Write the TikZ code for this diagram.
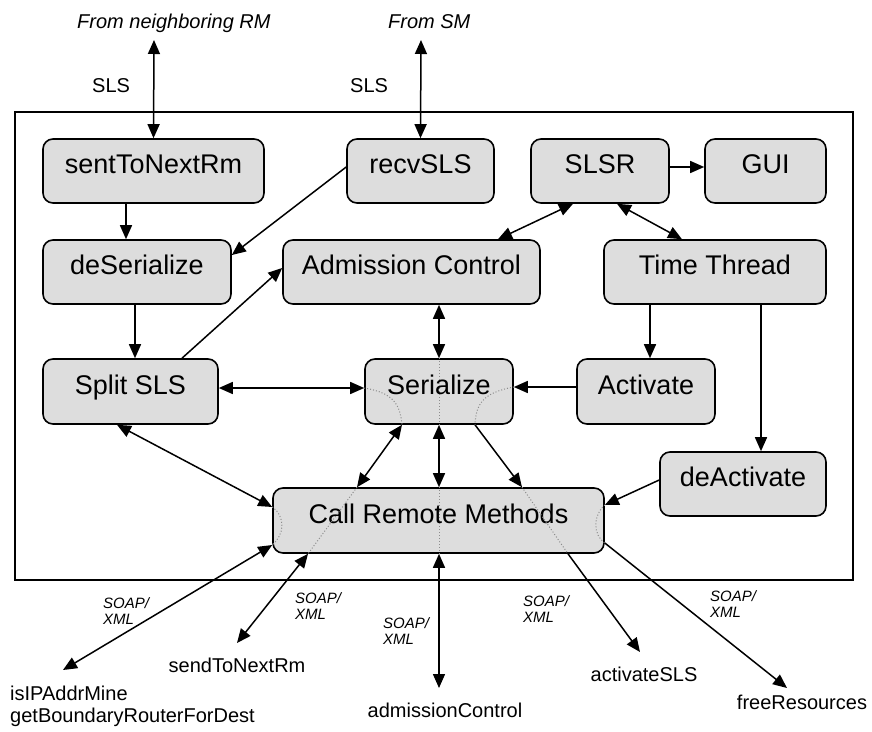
\documentclass[tikz,border=0pt]{standalone}
\usepackage{fontspec}
\setmainfont{Liberation Sans}
\usetikzlibrary{arrows.meta,calc}
\definecolor{boxgray}{HTML}{DDDDDD}
\begin{document}
\begin{tikzpicture}[x=1pt,y=-1pt,
  box/.style={draw=black, line width=1.6pt, fill=boxgray, rounded corners=10pt,
    inner sep=0pt, font=\fontsize{27}{32}\selectfont, text height=19pt, text depth=14pt},
  link/.style={line width=1.5pt, -{Triangle[length=14pt,width=12pt]}},
  both/.style={line width=1.5pt, {Triangle[length=14pt,width=12pt]}-{Triangle[length=14pt,width=12pt]}},
  hidden/.style={draw=black!45, dotted, line width=1pt},
  lbl/.style={font=\fontsize{20}{24}\selectfont, inner sep=0pt},
  src/.style={font=\fontsize{20}{24}\itshape\selectfont, inner sep=0pt, anchor=base west},
  proto/.style={font=\fontsize{15}{16}\itshape\selectfont, align=left, inner sep=0pt, anchor=north west},
]
\useasboundingbox (0,0) rectangle (872,731);

% enclosing module frame
\draw[line width=1.4pt] (15,112) rectangle (853,580);

% components
\node[box, minimum width=221pt, minimum height=64pt] (sent)  at (153.5,171) {sentToNextRm};
\node[box, minimum width=147pt, minimum height=64pt] (recv)  at (420.5,171) {recvSLS};
\node[box, minimum width=138pt, minimum height=64pt] (slsr)  at (600,171)   {SLSR};
\node[box, minimum width=121pt, minimum height=64pt] (gui)   at (765.5,171) {GUI};
\node[box, minimum width=188pt, minimum height=64pt] (deser) at (137,272)   {deSerialize};
\node[box, minimum width=257pt, minimum height=64pt] (adm)   at (411.5,272) {Admission Control};
\node[box, minimum width=222pt, minimum height=64pt] (tt)    at (715,272)   {Time Thread};
\node[box, minimum width=175pt, minimum height=65pt] (split) at (130.5,391.5) {Split SLS};
\node[box, minimum width=148pt, minimum height=65pt] (ser)   at (439,391.5) {Serialize};
\node[box, minimum width=138pt, minimum height=65pt] (act)   at (646,391.5) {Activate};
\node[box, minimum width=166pt, minimum height=64pt] (deact) at (743,484)   {deActivate};
\node[box, minimum width=331pt, minimum height=65pt] (crm)   at (438.5,520.5) {Call Remote Methods};

% external sources
\node[src] (fromrm) at (77,28)  {From neighboring RM};
\node[src] (fromsm) at (388,28) {From SM};
\node[lbl, anchor=base west] (sls1) at (92,92)  {SLS};
\node[lbl, anchor=base west] (sls2) at (350,92) {SLS};
\coordinate (rmtop) at (154,40);
\coordinate (smtop) at (421,40);

% remote method targets
\node[lbl, anchor=base west] (ip)   at (10,700)  {isIPAddrMine};
\node[lbl, anchor=base west] (gbr)  at (10,722)  {getBoundaryRouterForDest};
\node[lbl, anchor=base] (sendlbl)   at (237,672) {sendToNextRm};
\node[lbl, anchor=base] (admlbl)    at (445,717) {admissionControl};
\node[lbl, anchor=base] (actlbl)    at (644,681) {activateSLS};
\node[lbl, anchor=base] (freelbl)   at (802,709) {freeResources};
\coordinate (ipend)   at (63,670);
\coordinate (sendend) at (237,643);
\coordinate (admend)  at (439,688);
\coordinate (actend)  at (640,652);
\coordinate (freeend) at (787,688);

\node[proto] (p1) at (103,597) {SOAP/\\XML};
\node[proto] (p2) at (295,592) {SOAP/\\XML};
\node[proto] (p3) at (383,617) {SOAP/\\XML};
\node[proto] (p4) at (523,595) {SOAP/\\XML};
\node[proto] (p5) at (710,590) {SOAP/\\XML};

% incoming SLS
\draw[both] (rmtop) -- (sent.north);
\draw[both] (smtop) -- (recv.north);

% internal flow
\draw[link] ([xshift=-27.5pt]sent.south) -- ([xshift=-27.5pt]sent.south |- deser.north);
\draw[link] ([yshift=4pt]recv.west) -- ([yshift=17pt]deser.east);
\draw[link] ([xshift=-2pt]deser.south) -- ([xshift=-2pt]deser.south |- split.north);
\draw[link] ([xshift=51.5pt]split.north) -- ([yshift=4pt]adm.west);
\draw[both] ([xshift=-27pt]slsr.south) -- ([xshift=86.5pt]adm.north);
\draw[both] ([xshift=17pt]slsr.south) -- ([xshift=-33pt]tt.north);
\draw[link] ([yshift=4pt]slsr.east) -- ([yshift=4pt]slsr.east -| gui.west);
\draw[link] ([xshift=-65pt]tt.south) -- ([xshift=-65pt]tt.south |- act.north);
\draw[link] ([xshift=46pt]tt.south) -- ([xshift=46pt]tt.south |- deact.north);
\draw[both] ([yshift=3.5pt]split.east) -- ([yshift=3.5pt]split.east -| ser.west);
\draw[both] (ser.north |- adm.south) -- (ser.north);
\draw[link] ([yshift=4.5pt]act.west) -- ([yshift=4.5pt]act.west -| ser.east);
\draw[both] ([xshift=-13.5pt]split.south) -- ([yshift=13.5pt]crm.west);
\draw[both] ([xshift=-37pt]ser.south) -- ([xshift=-81.5pt]crm.north);
\draw[both] (ser.south) -- (ser.south |- crm.north);
\draw[link] ([xshift=36pt]ser.south) -- ([xshift=83.5pt]crm.north);
\draw[link] ([yshift=4pt]deact.west) -- ([yshift=15.5pt]crm.east);

% SOAP/XML calls
\draw[both] ([yshift=-24.5pt]crm.west) -- (ipend);
\draw[both] ([xshift=-130.5pt]crm.south) -- (sendend);
\draw[both] (ser.south |- crm.south) -- (admend);
\draw[link] ([xshift=129.5pt]crm.south) -- (actend);
\draw[link] ([yshift=-22.5pt]crm.east) -- (freeend);

% connector routes passing behind Serialize
\draw[hidden] (ser.north) -- (ser.south);
\draw[hidden] ([yshift=3.5pt]split.east -| ser.west) .. controls +(30,5) and +(-2,-20) .. ([xshift=-37pt]ser.south);
\draw[hidden] ([yshift=4.5pt]act.west -| ser.east) .. controls +(-33,6) and +(1,-19) .. ([xshift=36pt]ser.south);

% connector routes passing behind Call Remote Methods
\draw[hidden] (ser.south |- crm.north) -- (ser.south |- crm.south);
\draw[hidden] ([xshift=-81.5pt]crm.north) -- ([xshift=-130.5pt]crm.south);
\draw[hidden] ([xshift=83.5pt]crm.north) -- ([xshift=129.5pt]crm.south);
\draw[hidden] ([yshift=13.5pt]crm.west) .. controls +(14,10) and +(12,-10) .. ([yshift=-24.5pt]crm.west);
\draw[hidden] ([yshift=15.5pt]crm.east) .. controls +(-12,10) and +(-12,-8) .. ([yshift=-22.5pt]crm.east);
\end{tikzpicture}
\end{document}
